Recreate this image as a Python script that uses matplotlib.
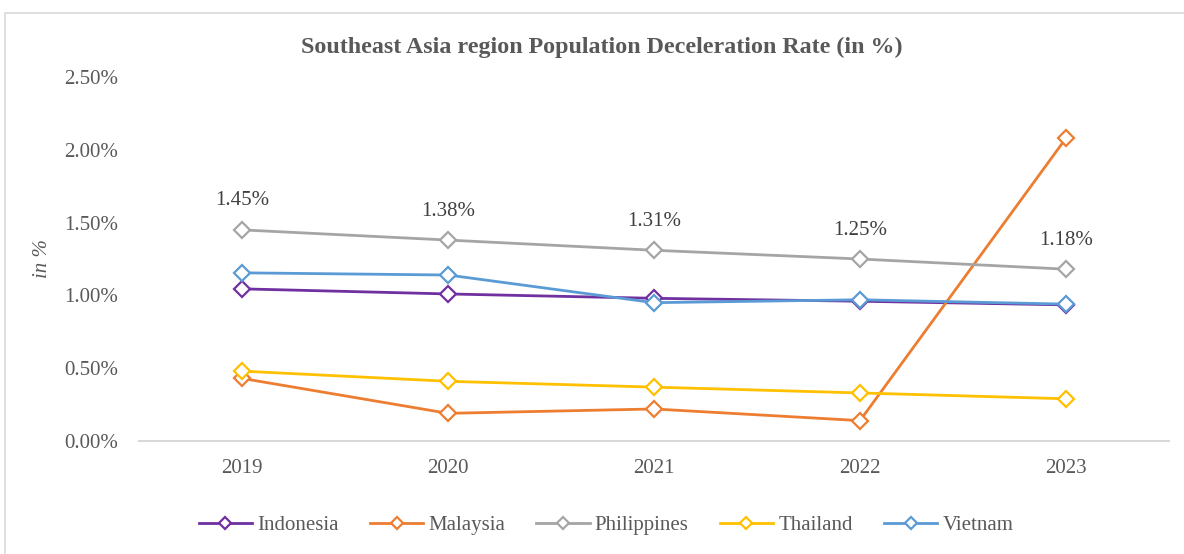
import matplotlib
matplotlib.use("Agg")
import matplotlib.pyplot as plt
from matplotlib.patches import Rectangle

years = ["2019", "2020", "2021", "2022", "2023"]
indonesia = [1.045, 1.01, 0.98, 0.96, 0.935]
malaysia = [0.43, 0.19, 0.22, 0.14, 2.08]
philippines = [1.45, 1.38, 1.31, 1.25, 1.18]
thailand = [0.48, 0.41, 0.37, 0.33, 0.29]
vietnam = [1.155, 1.14, 0.95, 0.97, 0.94]
yticks = [0.0, 0.5, 1.0, 1.5, 2.0, 2.5]

series = [
    ("Indonesia", indonesia, "#7030A0"),
    ("Malaysia", malaysia, "#ED7D31"),
    ("Philippines", philippines, "#A5A5A5"),
    ("Thailand", thailand, "#FFC000"),
    ("Vietnam", vietnam, "#5B9BD5"),
]

plt.rcParams['font.family'] = ['Liberation Serif', 'DejaVu Serif']
txt = "#595959"

fig = plt.figure(figsize=(11.84, 5.54), dpi=100)
ax = fig.add_axes([139/1184, 1 - 441/554, (1169-139)/1184, (441-77)/554])

x = list(range(len(years)))
handles = []
for name, vals, col in series:
    h, = ax.plot(x, vals, color=col, lw=2.0, marker="D", markersize=8,
                 markerfacecolor="white", markeredgecolor=col, markeredgewidth=1.6,
                 label=name, zorder=3)
    handles.append(h)

for xi, v in zip(x, philippines):
    ax.annotate(f"{v:.2f}%", (xi, v), xytext=(0, 14), textcoords="offset points",
                ha="center", va="bottom", fontsize=15, color="#404040")

ax.set_xlim(-0.5, len(years) - 0.5)
ax.set_ylim(0, 2.5)
ax.set_xticks(x)
ax.set_xticklabels(years)
ax.set_yticks(yticks)
ax.set_yticklabels([f"{t:.2f}%" for t in yticks])
ax.tick_params(axis="both", length=0, labelsize=15, labelcolor=txt)
ax.tick_params(axis="x", pad=13)
ax.tick_params(axis="y", pad=15)
for s in ["top", "right", "left"]:
    ax.spines[s].set_visible(False)
ax.spines["bottom"].set_color("#D9D9D9")
ax.spines["bottom"].set_linewidth(1.5)
ax.set_ylabel("in %", fontsize=15, style="italic", color=txt)
ax.yaxis.set_label_coords(-87/1030, 0.5)

fig.text(602/1184, 1 - 47/554, "Southeast Asia region Population Deceleration Rate (in %)",
         ha="center", va="center", fontsize=17.3, fontweight="bold", color=txt)

fig.legend(handles=handles, loc="center", bbox_to_anchor=(606/1184, 1 - 525/554),
           ncol=5, frameon=False, fontsize=15, labelcolor=txt, handlelength=2.55,
           columnspacing=1.5, handletextpad=0.25, markerscale=0.75)

fig.patches.append(Rectangle((5/1184, -0.1), 1.2, 1 - 13/554 + 0.1, transform=fig.transFigure,
                             fill=False, edgecolor="#D9D9D9", lw=1.2))

fig.savefig("out.png", dpi=100)
